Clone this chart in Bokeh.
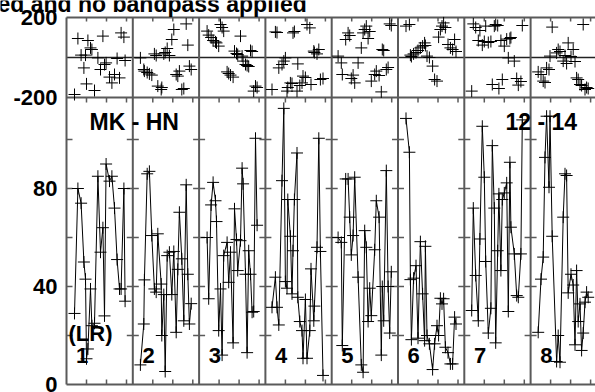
from bokeh.plotting import figure
from bokeh.models import Range1d, Label
from bokeh.core.properties import value
from bokeh.embed import file_html
from bokeh.resources import INLINE

# ---------------- data ----------------
title_text = "ed and no bandpass applied"
baseline_label = "MK - HN"
time_label = "12 - 14"
pol_label = "(LR)"
chan_labels = ["1", "2", "3", "4", "5", "6", "7", "8"]

amp_ticks = [0, 40, 80]
phase_ticks = [-200, 200]

# time within each channel column, amplitude, phase
t1 = [0.40, 0.57, 0.73, 0.87, 0.95, 1.00, 1.07, 1.20, 1.27, 1.40, 1.57, 1.70, 1.82, 1.90, 1.98, 2.15, 2.27, 2.40, 2.53, 2.65, 2.73, 2.87, 2.93]
a1 = [29, 80, 74, 50, 43, 10.5, 14.5, 39, 24, 25, 85, 54, 64, 28, 90, 83, 85, 72, 51, 39, 39, 80, 34]
p1 = [-185, 95, 12, -52, 12, -132, 85, 48, 40, -165, -2, -60, 107, -35, -27, -98, -127, -85, -5, -102, 123, 102, -15]

t2 = [0.38, 0.55, 0.58, 0.72, 0.83, 0.95, 1.08, 1.17, 1.25, 1.42, 1.45, 1.55, 1.62, 1.72, 1.83, 1.95, 2.05, 2.17, 2.25, 2.33, 2.45, 2.55, 2.67, 2.75, 2.83, 2.92]
a2 = [8, 24.7, 42.7, 86, 87, 60.8, 39, 37.7, 61.5, 41, 20, 36.7, 5.3, 52.6, 54, 36.7, 54.3, 21.3, 47, 70.3, 51.3, 26, 81.5, 45, 24.7, 33]
p2 = [-2, -60, -68, -75, -82, -88, 18, 10, -143, -160, -150, 18, 25, 45, 10, 90, 140, -85, -93, -68, -160, -155, 168, 62, -43, -60]

t3 = [0.40, 0.48, 0.60, 0.70, 0.82, 0.87, 0.98, 1.07, 1.15, 1.23, 1.40, 1.48, 1.57, 1.70, 1.77, 1.87, 1.93, 2.07, 2.15, 2.20, 2.32, 2.40, 2.48, 2.57, 2.65, 2.73, 2.82, 2.90]
a3 = [60, 35, 73.3, 82.5, 75, 66.5, 22, 39, 12, 52.6, 58, 41.7, 54, 17, 71.7, 59.2, 46.5, 58.7, 88.3, 81.9, 45, 13, 54.6, 45, 29.5, 29.8, 100.5, 65]
p3 = [132, 112, 100, 85, 78, 73, 57, 165, 150, 132, -72, -80, -88, -98, 32, 20, 15, 107, 7, -18, -35, -40, -45, 35, 30, -168, -143, -150]

t4 = [0.33, 0.50, 0.58, 0.67, 0.83, 0.92, 1.00, 1.08, 1.12, 1.25, 1.33, 1.38, 1.45, 1.58, 1.62, 1.72, 1.83, 1.88, 2.00, 2.08, 2.22, 2.28, 2.42, 2.45, 2.58, 2.67, 2.75, 2.88]
a4 = [31.5, 43.8, 31.5, 24.3, 83.2, 112.7, 42, 39.3, 75.5, 60.5, 37, 54.6, 75.5, 94.5, 35.6, 25.7, 22, 10.7, 34.7, 10.7, 22, 47.2, 26, 32, 56, 100.5, 54.3, 3.7]
p4 = [-160, 128, 125, -52, -35, -18, -2, -168, -150, -127, -130, 123, 130, -168, -32, -140, -127, -93, -100, 165, 148, -135, 32, 25, 18, 40, -110, -105]

t5 = [0.32, 0.48, 0.53, 0.70, 0.82, 0.90, 0.98, 1.07, 1.15, 1.32, 1.48, 1.57, 1.65, 1.73, 1.82, 1.90, 1.98, 2.15, 2.23, 2.37, 2.48, 2.53, 2.60, 2.73, 2.82, 2.90, 2.98]
a5 = [60, 58, 15.9, 83.9, 83.9, 68.3, 52.9, 60.8, 84.6, 43.8, 8, 5, 62.8, 56, 25.7, 39.3, 28.1, 55, 75, 68.3, 12, 40, 26, 87.3, 40, 21, 46]
p5 = [7, -27, -85, 90, 123, 110, -105, -88, -127, -27, 48, 123, 140, 157, 95, 130, -118, -85, -68, -90, -172, 40, 35, -60, -50, 168, 160]

t6 = [0.40, 0.57, 0.62, 0.67, 0.78, 0.90, 1.00, 1.12, 1.23, 1.33, 1.37, 1.45, 1.57, 1.73, 1.83, 1.95, 2.03, 2.12, 2.20, 2.28, 2.37, 2.50, 2.62, 2.73, 2.83, 2.90]
a6 = [108.6, 94.8, 42.8, 18.3, 43.4, 48.5, 18.9, 58.3, 37, 17.9, 56.4, 20, 16.6, 6.1, 16.6, 24, 20, 35.2, 32.9, 35, 15.2, 13, 8.4, 8.4, 27.5, 24.7]
p6 = [157, 165, 12, 5, 18, 25, 35, 48, 57, 73, 60, 7, 0, -43, -110, -118, 102, 140, 157, 173, 150, 65, 48, 40, 90, 30]

t7 = [0.37, 0.45, 0.57, 0.70, 0.78, 0.90, 1.00, 1.07, 1.20, 1.33, 1.40, 1.50, 1.57, 1.67, 1.73, 1.83, 1.90, 2.00, 2.12, 2.20, 2.28, 2.33, 2.50, 2.62, 2.70, 2.83, 2.90]
a7 = [30.2, 72, 44.5, 26, 59.4, 105.4, 84.6, 50.2, 21, 31.1, 97.5, 72, 17, 54.6, 77.8, 46.5, 75.5, 78.2, 82.3, 29.8, 90.7, 64.2, 53.3, 36.3, 35.6, 53.3, 108]
p7 = [-168, 168, 150, 85, 135, 62, 80, 157, 75, 80, -135, 157, 165, 160, -155, 85, -110, 57, 92, -2, 95, 100, -18, -105, -138, -120, 160]

t8 = [0.38, 0.52, 0.63, 0.72, 0.80, 0.92, 0.97, 1.08, 1.30, 1.38, 1.47, 1.63, 1.72, 1.80, 1.88, 2.02, 2.13, 2.22, 2.30, 2.38, 2.47, 2.55, 2.63, 2.72, 2.80, 2.88]
a8 = [21.3, 43, 52, 92.7, 109.5, 80.5, 109.5, 60.5, 9.4, 20, 9.1, 68.3, 86, 85.3, 37.4, 45, 40.6, 16.2, 46.5, 25.7, 32.9, 13.9, 21, 33.6, 37.7, 35.6]
p8 = [-72, -85, -118, -125, -52, -60, 7, 152, 23, 40, 30, -18, 10, -30, 73, 5, 40, -20, -102, -110, -135, -140, 165, -160, -150, -155]

times = [t1, t2, t3, t4, t5, t6, t7, t8]
amps = [a1, a2, a3, a4, a5, a6, a7, a8]
phases = [p1, p2, p3, p4, p5, p6, p7, p8]

# ---------------- layout constants (canvas pixels) ----------------
CW, CH = 595, 392
LEFT = 66            # left edge of the first channel column
TOP = 17             # top of the phase panel
SPLIT = 97           # boundary between phase and amplitude panels
BASE = 384           # amplitude zero line
PX = 1 / 20.0        # x units per pixel
W = 66.3 * PX        # channel column width in x units
A_PX = 20 / 49.0     # amplitude units per pixel
PH_PX = 400.0 / (SPLIT - TOP)   # phase units per pixel

amp_top = (BASE - TOP) * A_PX
amp_split = (BASE - SPLIT) * A_PX
xmax = (CW - LEFT) * PX

FONT = "Liberation Sans"
SEP = "#5a5a5a"

p = figure(width=CW, height=CH, output_backend="svg", toolbar_location=None,
           x_range=Range1d(-LEFT * PX, xmax),
           y_range=Range1d(-(CH - BASE) * A_PX, BASE * A_PX),
           x_axis_location=None, y_axis_location=None,
           min_border_left=0, min_border_right=0, min_border_top=0, min_border_bottom=0)
p.extra_y_ranges = {"phase": Range1d(phase_ticks[1] - (CH - TOP) * PH_PX,
                                     phase_ticks[1] + TOP * PH_PX)}
p.grid.visible = False
p.outline_line_color = None
p.background_fill_color = "white"
p.border_fill_color = "white"

# panel frame lines
p.segment(x0=[0, 0, 0], y0=[0, amp_split, amp_top], x1=[xmax] * 3, y1=[0, amp_split, amp_top],
          line_color=SEP, line_width=2)
p.segment(x0=[0], y0=[0], x1=[xmax], y1=[0], line_color="#222222", line_width=1.5,
          y_range_name="phase")
sep_x = [k * W for k in range(0, 8)]
p.segment(x0=sep_x, y0=[0] * 8, x1=sep_x, y1=[amp_top] * 8, line_color=SEP, line_width=2)

# y ticks on column edges (amplitude panel)
tx0, tx1, ty = [], [], []
for k in range(8):
    for v in [20, 40, 60, 80, 100]:
        tx0.append(k * W - (0 if k == 0 else 6 * PX))
        tx1.append(k * W + 6 * PX)
        ty.append(v)
p.segment(x0=tx0, y0=ty, x1=tx1, y1=ty, line_color=SEP, line_width=1.5)

# x ticks
xt = [k * W + j for k in range(8) for j in (1, 2, 3)]
n = len(xt)
p.segment(x0=xt, y0=[0] * n, x1=xt, y1=[5 * A_PX] * n, line_color=SEP, line_width=1.5)
p.segment(x0=xt, y0=[amp_split] * n, x1=xt, y1=[amp_split - 5 * A_PX] * n, line_color=SEP, line_width=1.5)
p.segment(x0=xt, y0=[amp_top] * n, x1=xt, y1=[amp_top - 4 * A_PX] * n, line_color=SEP, line_width=1.5)

# y tick labels (amplitude scale and phase scale)
lab_x = -9 * PX
p.text(x=[lab_x] * len(amp_ticks), y=amp_ticks, text=[str(v) for v in amp_ticks],
       text_font=value(FONT), text_font_size="22px", text_font_style="bold",
       text_color="black", text_align="right", text_baseline="middle")
p.text(x=[lab_x] * len(phase_ticks), y=phase_ticks, text=[str(v) for v in phase_ticks],
       text_font=value(FONT), text_font_size="22px", text_font_style="bold",
       text_color="black", text_align="right", text_baseline="middle",
       y_range_name="phase")

# data
for k in range(8):
    xs = [k * W + v for v in times[k]]
    p.line(xs, amps[k], line_color="black", line_width=1)
    p.scatter(xs, amps[k], marker="cross", size=12, line_color="black", line_width=1)
    p.scatter(xs, phases[k], marker="cross", size=12, line_color="black", line_width=1,
              y_range_name="phase")


def add_label(x, y, text, size="22px"):
    p.add_layout(Label(x=x, y=y, text=text, text_font=FONT, text_font_size=size,
                       text_font_style="bold", text_color="black",
                       text_baseline="middle", text_align="left"))


# positions given in canvas pixels (vertical centre of the text)
def px_x(x):
    return (x - LEFT) * PX


def px_y(y):
    return (BASE - y) * A_PX


add_label(px_x(-3), px_y(3.5), title_text, "23px")
add_label(px_x(89), px_y(121.5), baseline_label, "23px")
add_label(px_x(505), px_y(121.5), time_label, "23px")
add_label(px_x(68), px_y(333), pol_label, "22px")
for k, lab in enumerate(chan_labels):
    add_label(k * W + 0.48, px_y(354.5), lab, "22px")

open("out.html", "w").write(file_html(p, INLINE))
